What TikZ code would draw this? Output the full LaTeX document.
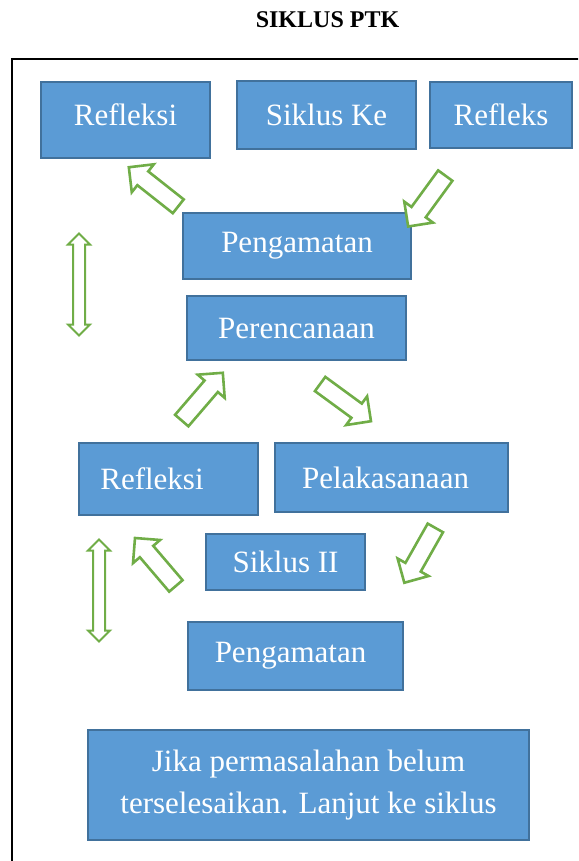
\documentclass[tikz,border=0pt]{standalone}
\usepackage{fontspec}
\setmainfont{Liberation Serif}
\usetikzlibrary{shapes.arrows}
\definecolor{boxblue}{HTML}{5B9BD5}
\definecolor{boxedge}{HTML}{41719C}
\definecolor{arrowgreen}{HTML}{70AD47}
\begin{document}
\begin{tikzpicture}[x=1pt,y=-1pt,
  kotak/.style={rectangle,draw=boxedge,fill=boxblue,line width=1.8pt,text=white,inner sep=0pt,align=center,font=\fontsize{31}{42}\selectfont},
  panah/.style={single arrow,draw=arrowgreen,fill=white,line width=2.6pt,inner xsep=0pt,inner ysep=7.5pt,single arrow head extend=9pt,minimum height=63pt},
  panahdua/.style={double arrow,draw=arrowgreen,fill=white,line width=2pt,inner xsep=0pt,inner ysep=5pt,double arrow head extend=5pt,minimum height=102pt,rotate=90}]
\useasboundingbox (0,0) rectangle (578,861);
\clip (0,0) rectangle (578,861);
\node (judul) [font=\bfseries\fontsize{24}{28}\selectfont] at (327.5,20) {SIKLUS PTK};
\draw [line width=2.5pt] (12,59) rectangle (620,920);
% baris atas
\node (r1) [kotak,minimum width=169pt,minimum height=76pt,text depth=10pt] at (125.5,120) {Refleksi};
\node (sk) [kotak,minimum width=179pt,minimum height=68pt] at (326.5,115) {Siklus Ke};
\node (rf) [kotak,minimum width=142pt,minimum height=66pt] at (501,115) {Refleks};
\node (p1) [kotak,minimum width=228pt,minimum height=66pt] at (297,246) {Pengamatan};
\node (pr) [kotak,minimum width=219pt,minimum height=64pt] at (296.5,328) {Perencanaan};
% siklus II
\node (r2) [kotak,minimum width=179pt,minimum height=72pt] at (168.5,479) {Refleksi\hspace*{33pt}};
\node (pl) [kotak,minimum width=233pt,minimum height=69pt] at (391.5,477.5) {Pelakasanaan\hspace*{12pt}};
\node (s2) [kotak,minimum width=159pt,minimum height=56pt] at (285.5,562) {Siklus II};
\node (p2) [kotak,minimum width=215pt,minimum height=68pt] at (295.5,656) {Pengamatan\hspace*{10pt}};
\node (jk) [kotak,minimum width=441pt,minimum height=110pt] at (308.5,785) {Jika permasalahan belum\\terselesaikan. Lanjut ke siklus};
% panah
\node (a1) [panah,rotate=141.7] at (157,189.5) {};
\node (a2) [panah,rotate=233.9] at (429.3,197.5) {};
\node (a3) [panah,rotate=49.3] at (199.4,400) {};
\node (a4) [panah,rotate=-36.2] at (342,400) {};
\node (a5) [panah,rotate=240.5] at (422,551.5) {};
\node (a6) [panah,rotate=130.5] at (158.3,565.3) {};
\node (d1) [panahdua] at (79,284.5) {};
\node (d2) [panahdua] at (99,590.5) {};
\end{tikzpicture}
\end{document}
